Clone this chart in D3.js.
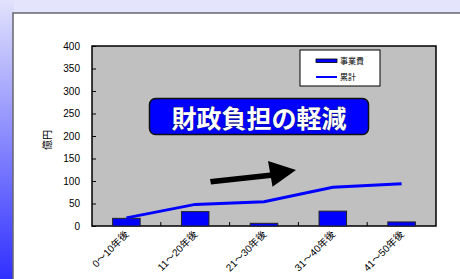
<!DOCTYPE html>
<meta charset="utf-8">
<title>財政負担の軽減</title>
<style>
    body { margin: 0; background: #e4e4fc; }
    svg { display: block; }
    text { font-family: Arial, "Liberation Sans", "Noto Sans CJK JP", sans-serif; }
    .tick text { font-size: 10px; fill: #000; }
</style>
<body>
<div id="chart"></div>
<script src="https://cdn.jsdelivr.net/npm/d3@7/dist/d3.min.js"></script>
<script>
    // data
    var categories = ["0～10年後", "11～20年後", "21～30年後", "31～40年後", "41～50年後"];
    var costs = [17, 32, 6, 33, 9];          // 事業費
    var cumulative = [18, 48, 54, 86, 94];   // 累計
    var yTicks = [0, 50, 100, 150, 200, 250, 300, 350, 400];
    var seriesNames = ["事業費", "累計"];

    var W = 460, H = 279;
    var plot = {left: 92, top: 46, right: 436, bottom: 226};

    var svg = d3.select("#chart").append("svg")
        .attr("width", W).attr("height", H);

    // slide background
    var defs = svg.append("defs");
    var grad = defs.append("linearGradient").attr("id", "side")
        .attr("x1", 0).attr("y1", 0).attr("x2", 0).attr("y2", 1);
    grad.append("stop").attr("offset", "0%").attr("stop-color", "#e2e2fc");
    grad.append("stop").attr("offset", "100%").attr("stop-color", "#3030ff");

    svg.append("rect").attr("width", W).attr("height", H).attr("fill", "#e4e4fc");
    svg.append("rect").attr("x", 0).attr("y", 0).attr("width", 14).attr("height", H)
        .attr("fill", "url(#side)");
    svg.append("rect").attr("x", 13).attr("y", 13).attr("width", W).attr("height", H)
        .attr("fill", "#fff").attr("stroke", "#66666e").attr("stroke-width", 1.5);

    var x = d3.scaleBand().domain(categories)
        .range([plot.left, plot.right]).paddingInner(0).paddingOuter(0);
    var y = d3.scaleLinear().domain([0, 400]).range([plot.bottom, plot.top]);

    // plot area
    svg.append("rect")
        .attr("x", plot.left).attr("y", plot.top)
        .attr("width", plot.right - plot.left).attr("height", plot.bottom - plot.top)
        .attr("fill", "#c0c0c0").attr("stroke", "#000").attr("stroke-width", 1.5);

    // y axis
    var yAxis = svg.append("g")
        .attr("transform", "translate(" + plot.left + ",0)")
        .call(d3.axisLeft(y).tickValues(yTicks).tickSize(-4).tickPadding(12));
    yAxis.select(".domain").remove();
    yAxis.selectAll(".tick line").attr("stroke", "#000");

    svg.append("text")
        .attr("transform", "translate(51,140) rotate(-90)")
        .attr("text-anchor", "middle")
        .attr("font-size", 10)
        .text("億円");

    // x axis: ticks between categories, labels rotated
    var bounds = categories.slice(1).map(function(c) { return x(c); });
    svg.append("g").selectAll("line").data(bounds).enter().append("line")
        .attr("x1", function(d) { return d; }).attr("x2", function(d) { return d; })
        .attr("y1", plot.bottom).attr("y2", plot.bottom - 4)
        .attr("stroke", "#000");

    svg.append("g").selectAll("text").data(categories).enter().append("text")
        .attr("transform", function(d) {
            return "translate(" + (x(d) + x.bandwidth() / 2 + 3) + "," + (plot.bottom + 9) + ") rotate(-45)";
        })
        .attr("text-anchor", "end")
        .attr("font-size", 10)
        .text(function(d) { return d; });

    // bars
    var bw = x.bandwidth() * 0.4;
    svg.append("g").selectAll("rect").data(costs).enter().append("rect")
        .attr("x", function(d, i) { return x(categories[i]) + (x.bandwidth() - bw) / 2; })
        .attr("y", function(d) { return y(d); })
        .attr("width", bw)
        .attr("height", function(d) { return y(0) - y(d); })
        .attr("fill", "#0000ff").attr("stroke", "#222").attr("stroke-width", 1);

    // cumulative line
    var line = d3.line()
        .x(function(d, i) { return x(categories[i]) + x.bandwidth() / 2; })
        .y(function(d) { return y(d); });
    svg.append("path").datum(cumulative)
        .attr("d", line)
        .attr("fill", "none").attr("stroke", "#0000ff").attr("stroke-width", 3);

    // legend
    var lg = svg.append("g").attr("transform", "translate(300,50)");
    lg.append("rect").attr("width", 80).attr("height", 36)
        .attr("fill", "#fff").attr("stroke", "#000").attr("stroke-width", 1);
    lg.append("rect").attr("x", 16).attr("y", 9).attr("width", 21).attr("height", 3.5)
        .attr("fill", "#0000ff").attr("stroke", "#000").attr("stroke-width", 0.8);
    lg.append("line").attr("x1", 16).attr("x2", 37).attr("y1", 27).attr("y2", 27)
        .attr("stroke", "#0000ff").attr("stroke-width", 2);
    lg.selectAll("text.lg").data(seriesNames).enter().append("text")
        .attr("class", "lg")
        .attr("x", 40).attr("y", function(d, i) { return 14 + i * 16; })
        .attr("font-size", 8)
        .text(function(d) { return d; });

    // title badge
    svg.append("rect")
        .attr("x", 149.5).attr("y", 98.5).attr("width", 219).attr("height", 36)
        .attr("rx", 6).attr("ry", 6)
        .attr("fill", "#0000ff").attr("stroke", "#111").attr("stroke-width", 1.5);
    svg.append("text")
        .attr("x", 259).attr("y", 127.5)
        .attr("text-anchor", "middle")
        .attr("font-size", 25).attr("font-weight", "bold")
        .attr("font-family", "'Noto Sans CJK JP', sans-serif")
        .attr("fill", "#fff")
        .attr("stroke", "#222").attr("stroke-width", 0.6)
        .attr("paint-order", "stroke")
        .text("財政負担の軽減");

    // arrow
    svg.append("path")
        .attr("d", "M210,179 L270,172.5 L268,161 L296,170 L272.5,186.7 L271,178 L211,184.5 Z")
        .attr("fill", "#000");
</script>
</body>
</html>
